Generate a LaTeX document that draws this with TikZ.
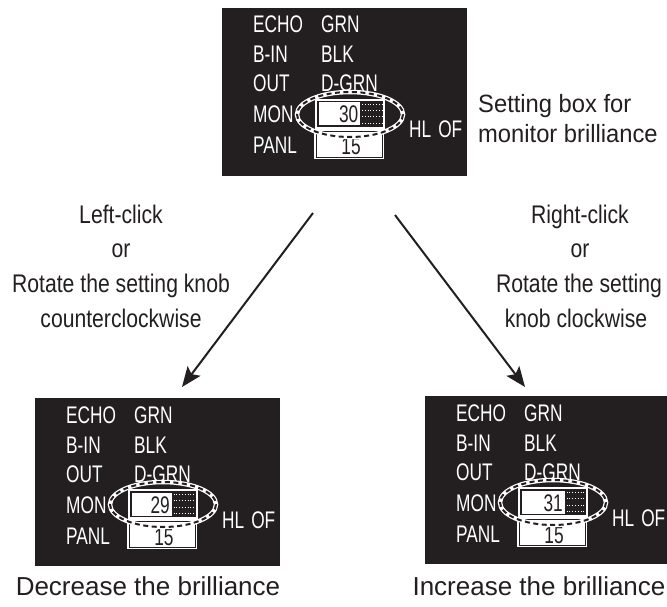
\documentclass[tikz,border=0pt]{standalone}
\usepackage{fontspec}
\setmainfont{Liberation Sans}
\newfontfamily\panelfont[FakeStretch=0.72]{Liberation Sans}
\newfontfamily\labelfont[FakeStretch=0.83]{Liberation Sans}
\newfontfamily\notefont[FakeStretch=0.95]{Liberation Sans}
\usetikzlibrary{arrows.meta}
\definecolor{panelbg}{RGB}{35,31,32}
\definecolor{ink}{RGB}{35,31,32}
\tikzset{
  panel/.style={fill=panelbg, draw=none, minimum width=245pt, minimum height=168pt, inner sep=0pt},
  ptext/.style={text=white, inner sep=0pt, anchor=base west, font={\panelfont\fontsize{24pt}{28pt}\selectfont}},
  ntext/.style={text=ink, inner sep=0pt, font={\panelfont\fontsize{24pt}{28pt}\selectfont}},
  lbl/.style={text=ink, inner sep=0pt, anchor=base, font={\labelfont\fontsize{25.5pt}{30pt}\selectfont}},
  note/.style={text=ink, inner sep=0pt, anchor=base west, font={\notefont\fontsize{25pt}{30pt}\selectfont}},
  captext/.style={text=ink, inner sep=0pt, anchor=base, font={\fontsize{26pt}{30pt}\selectfont}},
  arr/.style={draw=ink, line width=2pt, -{Stealth[length=20pt, width=16pt, inset=4pt]}},
  dotrow/.style={white, line width=1pt, dash pattern=on 1pt off 1.8pt},
}
\newcommand{\monpanel}[5]{% #1 name, #2 x, #3 y, #4 value, #5 bar end
\begin{scope}[shift={(#2,#3)}]
  \node[panel] (#1) at (122.5,84) {};
  \node[ptext] (#1-echo) at (31,25) {ECHO};
  \node[ptext] (#1-bin)  at (31,55) {B-IN};
  \node[ptext] (#1-out)  at (31,84) {OUT};
  \node[ptext] (#1-mon)  at (31,115) {MON};
  \node[ptext] (#1-panl) at (31,146) {PANL};
  \node[ptext] (#1-grn)  at (99,25) {GRN};
  \node[ptext] (#1-blk)  at (99,55) {BLK};
  \node[ptext] (#1-dgrn) at (99,84) {D-GRN};
  \node[ptext] (#1-hl)   at (187,130) {HL\hspace{7pt}OF};
  % monitor value box
  \draw[white, line width=1.2pt] (94,92) rectangle (162,120);
  \fill[white] (96.5,94.5) rectangle (#5,117.5);
  \foreach \yy in {96.5,102.5,109,115.5} {\draw[dotrow] (#5+2,\yy) -- (160,\yy);}
  \node[ntext, anchor=base east] (#1-val) at (#5-1.5,115) {#4};
  % panel value box
  \fill[white] (92,121) rectangle (162,151);
  \draw[panelbg, line width=0.8pt] (94,123) rectangle (160,149);
  \node[ntext, anchor=base] (#1-pval) at (129,147) {15};
  % dashed highlight ellipse
  \draw[white, line width=4.5pt] (128,106.5) ellipse [x radius=53, y radius=22.5];
  \draw[panelbg, line width=2pt, dash pattern=on 5pt off 3.5pt] (128,106.5) ellipse [x radius=53, y radius=22.5];
\end{scope}}
\begin{document}
\begin{tikzpicture}[x=1pt, y=-1pt]
\useasboundingbox (0,0) rectangle (667,607);
\clip (0,0) rectangle (667,607);
\fill[white] (0,0) rectangle (667,607);

\monpanel{top}{222}{8}{30}{138}
\monpanel{dec}{35}{398}{29}{136.5}
\monpanel{inc}{425}{396}{31}{139.5}

\node[note] (note1) at (478,113) {Setting box for};
\node[note] (note2) at (478,143) {monitor brilliance};

\node[lbl] (l1) at (121,223) {Left-click};
\node[lbl] (l2) at (121,257) {or};
\node[lbl] (l3) at (121,292) {Rotate the setting knob};
\node[lbl] (l4) at (121,327) {counterclockwise};

\node[lbl] (r1) at (580,223) {Right-click};
\node[lbl] (r2) at (580,257) {or};
\node[lbl] (r3) at (579,292) {Rotate the setting};
\node[lbl] (r4) at (576,327) {knob clockwise};

\coordinate (ls) at (313,213);
\coordinate (le) at (182,387);
\coordinate (rs) at (395,215);
\coordinate (re) at (525,387);
\draw[arr] (ls) -- (le);
\draw[arr] (rs) -- (re);

\node[captext] (c1) at (148,595) {Decrease the brilliance};
\node[captext] (c2) at (539,595) {Increase the brilliance};
\end{tikzpicture}
\end{document}
